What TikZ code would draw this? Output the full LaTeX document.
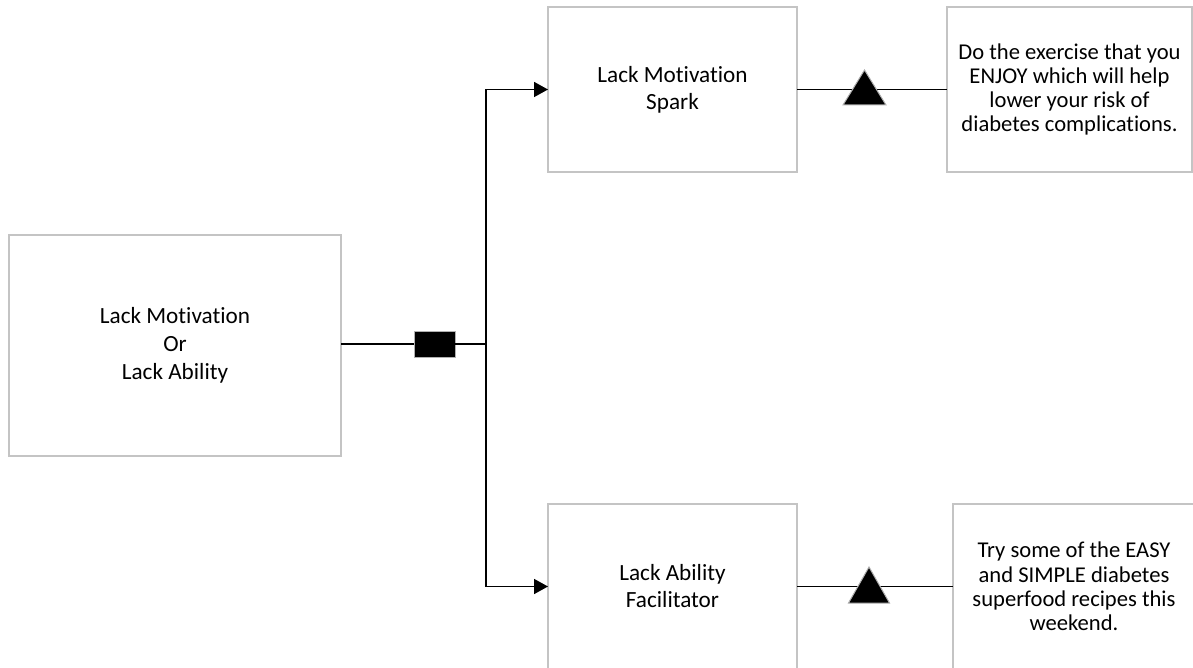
\documentclass[tikz,border=0pt]{standalone}
\usepackage{fontspec}
\setmainfont[Ligatures=NoCommon]{Carlito}
\usetikzlibrary{arrows.meta}
\definecolor{boxgray}{HTML}{C4C4C4}
\definecolor{markgray}{HTML}{B0B0B0}
\tikzset{
  box/.style={draw=boxgray, line width=1.3pt, fill=white, rectangle, inner sep=0pt, outer sep=0pt, align=center, text=black},
  bigtext/.style={font=\fontsize{23.2}{27.8}\selectfont},
  midtext/.style={font=\fontsize{23.2}{27}\selectfont},
  righttext/.style={font=\fontsize{22.6}{24.2}\selectfont},
  conn/.style={draw=black, line width=1.6pt},
  arr/.style={conn, -{Triangle[length=14pt,width=15pt]}},
  blockmark/.style={rectangle, fill=black, draw=markgray, line width=1pt, minimum width=41pt, minimum height=26pt, inner sep=0pt, outer sep=0pt},
  trimark/.style={fill=black, draw=markgray, line width=1pt, line join=miter},
}
\begin{document}
\begin{tikzpicture}[x=1pt, y=-1pt]
\useasboundingbox (0,0) rectangle (1193,668);
% boxes
\node[box, bigtext, minimum width=332pt, minimum height=221pt] (L) at (175,345.5) {Lack Motivation\\Or\\Lack Ability};
\node[box, midtext, minimum width=249pt, minimum height=165pt] (S) at (672.5,89.5) {Lack Motivation\\Spark};
\node[box, midtext, minimum width=249pt, minimum height=165pt] (F) at (672.5,586.5) {Lack Ability\\Facilitator};
\node[box, righttext, minimum width=245pt, minimum height=165pt] (D1) at (1069.5,89.5) {Do the exercise that you\\ENJOY which will help\\lower your risk of\\diabetes complications.};
\node[box, righttext, minimum width=242pt, minimum height=165pt] (D2) at (1074,586.5) {Try some of the EASY\\and SIMPLE diabetes\\superfood recipes this\\weekend.};
% decision connector
\node[blockmark] (B) at (434.5,344) {};
\coordinate (J) at (486,344);
\draw[conn] (L.east |- B.west) -- (B.west);
\draw[conn] (B.east) -- (J);
\draw[conn, line width=2pt] (J |- S.west) -- (J |- F.west);
\draw[arr] (J) |- (S.west);
\draw[arr] (J) |- (F.west);
% links to advice boxes
\draw[conn] (S.east) -- (D1.west);
\draw[conn] (F.east) -- (D2.west);
\coordinate (T1) at (864.5,90);
\coordinate (T2) at (869,586.5);
\path[trimark] ([shift={(0,-20)}]T1) -- ([shift={(21.5,15)}]T1) -- ([shift={(-21.5,15)}]T1) -- cycle;
\path[trimark] ([shift={(0,-19.5)}]T2) -- ([shift={(20.5,16.5)}]T2) -- ([shift={(-20.5,16.5)}]T2) -- cycle;
\end{tikzpicture}
\end{document}
